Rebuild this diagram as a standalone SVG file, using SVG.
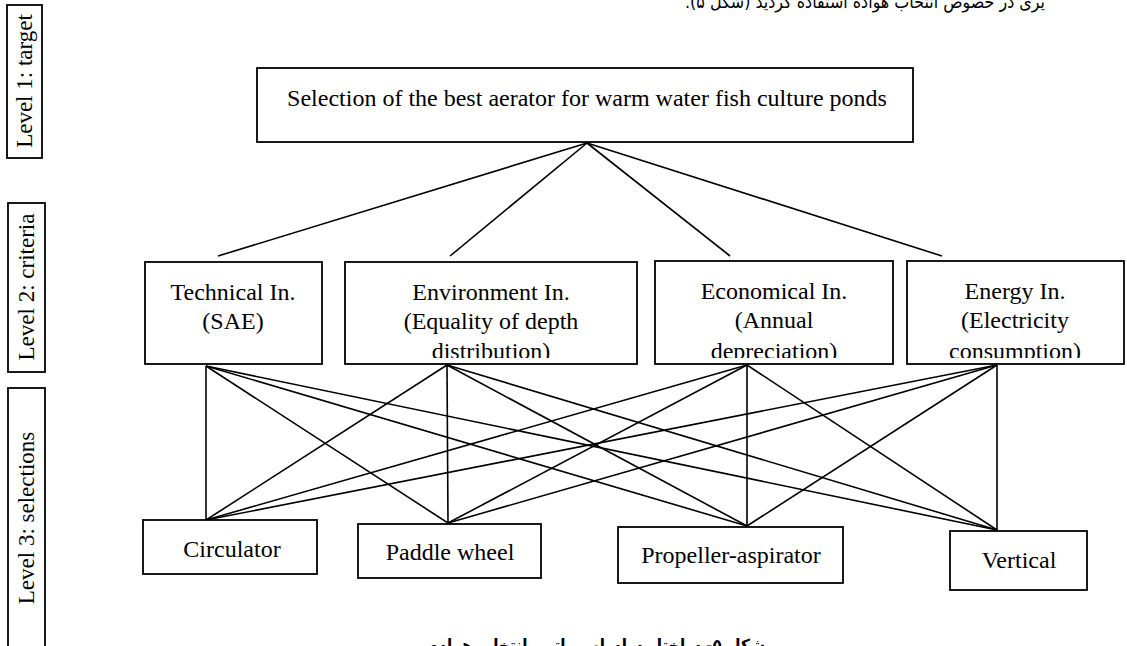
<svg xmlns="http://www.w3.org/2000/svg" width="1127" height="646" viewBox="0 0 1127 646">
<style>
.box{fill:#fff;stroke:#000;stroke-width:1.8}
.t{font-family:"Liberation Serif","Times New Roman",serif;font-size:24px;fill:#000;text-anchor:middle}
.lv{font-family:"Liberation Serif","Times New Roman",serif;font-size:23px;fill:#000;text-anchor:middle}
.fa{font-family:"DejaVu Sans","Noto Sans",sans-serif;fill:#000}
.c line{stroke:#000;stroke-width:1.6}
</style>
<defs>
<clipPath id="cp2"><rect x="345" y="262" width="292" height="96"/></clipPath>
<clipPath id="cp3"><rect x="655" y="261" width="238" height="97"/></clipPath>
<clipPath id="cp4"><rect x="907" y="261" width="218" height="97"/></clipPath>
</defs>
<rect width="1127" height="646" fill="#fff"/>
<text class="fa" x="1045" y="8" font-size="18" textLength="360" lengthAdjust="spacingAndGlyphs" direction="rtl" text-anchor="start">یری در خصوص انتخاب هواده استفاده گردید (شکل ۵).</text>

<g id="level1"><rect class="box" x="7" y="5" width="35" height="153"/><text class="lv" transform="translate(32,81) rotate(-90)">Level 1: target</text></g>
<g id="level2"><rect class="box" x="8" y="203" width="37" height="169"/><text class="lv" transform="translate(34,287) rotate(-90)">Level 2: criteria</text></g>
<g id="level3"><rect class="box" x="8" y="388" width="37" height="262"/><text class="lv" transform="translate(34,518) rotate(-90)">Level 3: selections</text></g>

<g class="c" id="connectors">
<line x1="587" y1="143" x2="218" y2="256"/>
<line x1="587" y1="143" x2="450" y2="256"/>
<line x1="587" y1="143" x2="730" y2="256"/>
<line x1="587" y1="143" x2="942" y2="256"/>

<line x1="206" y1="366" x2="206" y2="520"/>
<line x1="206" y1="366" x2="448" y2="523"/>
<line x1="206" y1="366" x2="747" y2="526"/>
<line x1="206" y1="366" x2="997" y2="530"/>

<line x1="447" y1="365" x2="206" y2="520"/>
<line x1="447" y1="365" x2="448" y2="523"/>
<line x1="447" y1="365" x2="747" y2="526"/>
<line x1="447" y1="365" x2="997" y2="530"/>

<line x1="747" y1="365" x2="206" y2="520"/>
<line x1="747" y1="365" x2="448" y2="523"/>
<line x1="747" y1="365" x2="747" y2="526"/>
<line x1="747" y1="365" x2="997" y2="530"/>

<line x1="997" y1="365" x2="206" y2="520"/>
<line x1="997" y1="365" x2="448" y2="523"/>
<line x1="997" y1="365" x2="747" y2="526"/>
<line x1="997" y1="365" x2="997" y2="530"/>
</g>

<g id="goal"><rect class="box" x="257" y="68" width="656" height="74"/><text class="t" x="587" y="106">Selection of the best aerator for warm water fish culture ponds</text></g>

<g id="technical"><rect class="box" x="145" y="262" width="177" height="102"/><text class="t" x="233" y="300">Technical In.</text><text class="t" x="233" y="329">(SAE)</text></g>
<g id="environment"><rect class="box" x="345" y="262" width="292" height="102"/><g clip-path="url(#cp2)"><text class="t" x="491" y="300">Environment In.</text><text class="t" x="491" y="329">(Equality of depth</text><text class="t" x="491" y="359">distribution)</text></g></g>
<g id="economical"><rect class="box" x="655" y="261" width="238" height="103"/><g clip-path="url(#cp3)"><text class="t" x="774" y="299">Economical In.</text><text class="t" x="774" y="328">(Annual</text><text class="t" x="774" y="359">depreciation)</text></g></g>
<g id="energy"><rect class="box" x="907" y="261" width="217" height="103"/><g clip-path="url(#cp4)"><text class="t" x="1015" y="299">Energy In.</text><text class="t" x="1015" y="328">(Electricity</text><text class="t" x="1015" y="359">consumption)</text></g></g>

<g id="circulator"><rect class="box" x="143" y="520" width="174" height="54"/><text class="t" x="232" y="557">Circulator</text></g>
<g id="paddle"><rect class="box" x="358" y="524" width="183" height="54"/><text class="t" x="450" y="560">Paddle wheel</text></g>
<g id="propeller"><rect class="box" x="618" y="527" width="225" height="56"/><text class="t" x="731" y="563">Propeller-aspirator</text></g>
<g id="vertical"><rect class="box" x="950" y="531" width="137" height="59"/><text class="t" x="1019" y="568">Vertical</text></g>

<text class="fa" x="765" y="652" font-size="18" font-weight="bold" textLength="335" lengthAdjust="spacingAndGlyphs" direction="rtl" text-anchor="start">شکل ۵- ساختار سلسله مراتبی انتخاب هواده</text>
</svg>
